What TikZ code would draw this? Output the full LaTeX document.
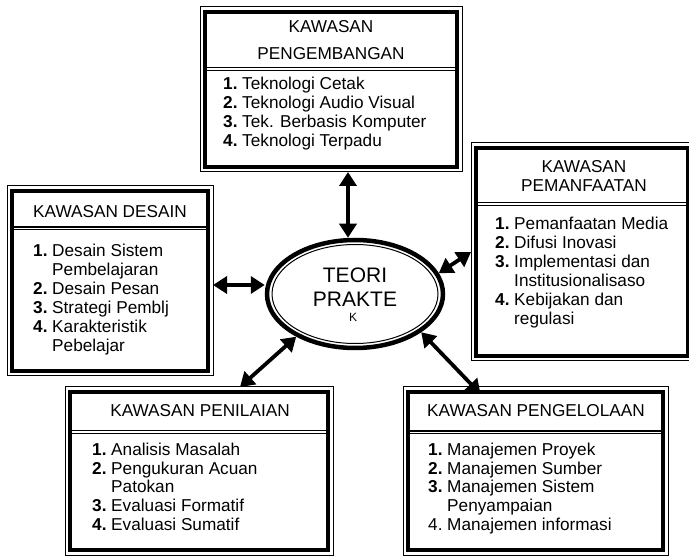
\documentclass[tikz,border=0pt]{standalone}
\usepackage{fontspec}
\setmainfont{Liberation Sans}
\usetikzlibrary{arrows.meta,fit,shapes.geometric}

\begin{document}
\begin{tikzpicture}[x=1pt,y=-1pt,
  >={Triangle[length=14pt,width=17pt]},
  frame/.style={draw, line width=1pt, inner sep=0pt, outer sep=0pt},
  thickframe/.style={line width=4.5pt},
  sepline/.style={double, double distance=1.6pt, line width=1.2pt},
  head/.style={inner sep=0pt, anchor=base, font=\fontsize{17.2}{19}\selectfont},
  itemlist/.style={inner sep=0pt, anchor=base west, font=\fontsize{17.2}{19}\selectfont},
  link/.style={line width=3.8pt, <->},
  coretext/.style={inner sep=0pt, anchor=base, font=\fontsize{21}{24}\selectfont}
]
\clip (0,0) rectangle (689,556);
\fill[white] (0,0) rectangle (689,556);

% ---------- outer frames ----------
\node[frame, fit={(200,7) (462,172)}] (dev) {};
\node[frame, fit={(7,186) (213,376)}] (des) {};
\node[frame, fit={(471,143) (693,361)}] (man) {};
\node[frame, fit={(65,387) (333,555)}] (nil) {};
\node[frame, fit={(403,387) (668,555)}] (kel) {};

% ---------- header separators ----------
\draw[sepline] (205,69) -- (457,69);
\draw[sepline] (12,228.5) -- (208,228.5);
\draw[sepline] (476,204) -- (688,204);
\draw[sepline] (70,432) -- (328,432);
\draw[sepline] (408,432.5) -- (663,432.5);

% ---------- inner thick frames ----------
\foreach \b in {dev,des,man,nil,kel}
  \draw[thickframe] ([shift={(5pt,-5pt)}]\b.north west) rectangle ([shift={(-5pt,5pt)}]\b.south east);

% ---------- headers ----------
\node[head] (devh1) at (331,33) {KAWASAN};
\node[head] (devh2) at (331,60) {PENGEMBANGAN};
\node[head] (desh) at (110,218) {KAWASAN DESAIN};
\node[head] (manh1) at (584,173) {KAWASAN};
\node[head] (manh2) at (584,192) {PEMANFAATAN};
\node[head] (nilh) at (200,417) {KAWASAN PENILAIAN};
\node[head] (kelh) at (536,417) {KAWASAN PENGELOLAAN};

% ---------- item lists ----------
\node[itemlist] (devl) at (223,90) {\begin{tabular}[t]{@{}l@{\hspace{4.7pt}}l@{}}
\textbf{1.} & Teknologi Cetak\\
\textbf{2.} & Teknologi Audio Visual\\
\textbf{3.} & Tek. Berbasis Komputer\\
\textbf{4.} & Teknologi Terpadu
\end{tabular}};

\node[itemlist] (desl) at (33,257) {\begin{tabular}[t]{@{}l@{\hspace{4.7pt}}l@{}}
\textbf{1.} & Desain Sistem\\
 & Pembelajaran\\
\textbf{2.} & Desain Pesan\\
\textbf{3.} & Strategi Pemblj\\
\textbf{4.} & Karakteristik\\
 & Pebelajar
\end{tabular}};

\node[itemlist] (manl) at (495,230) {\begin{tabular}[t]{@{}l@{\hspace{4.7pt}}l@{}}
\textbf{1.} & Pemanfaatan Media\\
\textbf{2.} & Difusi Inovasi\\
\textbf{3.} & Implementasi dan\\
 & Institusionalisaso\\
\textbf{4.} & Kebijakan dan\\
 & regulasi
\end{tabular}};

\node[itemlist] (nill) at (92,455) {\begin{tabular}[t]{@{}l@{\hspace{4.7pt}}l@{}}
\textbf{1.} & Analisis Masalah\\
\textbf{2.} & Pengukuran Acuan\\
 & Patokan\\
\textbf{3.} & Evaluasi Formatif\\
\textbf{4.} & Evaluasi Sumatif
\end{tabular}};

\node[itemlist] (kell) at (428,455) {\begin{tabular}[t]{@{}l@{\hspace{4.7pt}}l@{}}
\textbf{1.} & Manajemen Proyek\\
\textbf{2.} & Manajemen Sumber\\
\textbf{3.} & Manajemen Sistem\\
 & Penyampaian\\
4. & Manajemen informasi
\end{tabular}};

% ---------- central ellipse ----------
\node[ellipse, draw, line width=4.5pt, minimum width=176pt, minimum height=108pt,
      inner sep=0pt] (core) at (355,294) {};
\draw[line width=1pt] (core.center) ellipse [x radius=83pt, y radius=49.5pt];
\node[coretext] (c1) at (355,283) {TEORI};
\node[coretext] (c2) at (355,307) {PRAKTE};
\node[inner sep=0pt, anchor=base, font=\fontsize{12}{14}\selectfont] (c3) at (353,322) {K};

% ---------- connectors ----------
\draw[link] ([xshift=17pt]dev.south) -- ([xshift=-7pt]core.north);
\draw[link] ([yshift=-4pt]des.east) -- ([yshift=9pt]core.west);
\draw[link] (core.14) -- (man.west);
\draw[link] (core.216) -- ([xshift=41pt]nil.north);
\draw[link] (core.-30) -- ([xshift=-55pt,yshift=-7pt]kel.north);
\end{tikzpicture}
\end{document}
